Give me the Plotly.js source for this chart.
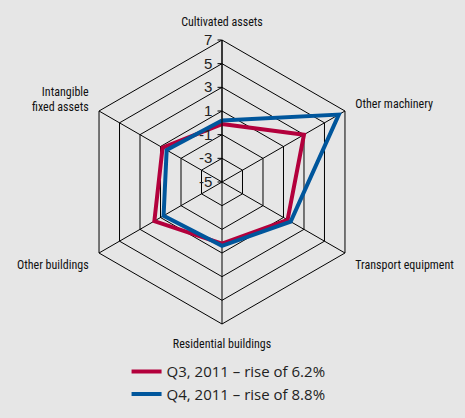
<!DOCTYPE html>
<html><head><meta charset="utf-8">
<script src="https://cdn.plot.ly/plotly-3.0.1.min.js"></script>
<style>html,body{margin:0;padding:0;background:#e6e6e6;}#chart{width:465px;height:418px;}</style>
</head><body><div id="chart"></div>
<script>
const categories = ["Cultivated assets", "Other machinery", "Transport equipment", "Residential buildings", "Other buildings", "Intangible fixed assets"];
const categoryLabels = ["Cultivated assets", "Other machinery", "Transport equipment", "Residential buildings", "Other buildings", "Intangible<br>fixed assets"];
const q3Values = [-0.1, 3.0, 1.4, 0.2, 1.6, 0.8];
const q4Values = [0.2, 6.4, 1.7, 0.4, 0.7, 0.4];
const q3Name = "Q3, 2011 \u2013 rise of 6.2%";
const q4Name = "Q4, 2011 \u2013 rise of 8.8%";
const radialTicks = [-5, -3, -1, 1, 3, 5, 7];

const close = a => a.concat([a[0]]);
const traces = [
  {type: "scatterpolar", r: close(q3Values), theta: close(categories), name: q3Name, mode: "lines",
   line: {color: "#b3003c", width: 4}},
  {type: "scatterpolar", r: close(q4Values), theta: close(categories), name: q4Name, mode: "lines",
   line: {color: "#00569c", width: 4}}
];
const narrow = "'Liberation Sans Narrow', 'Roboto Condensed', 'Arial Narrow', 'Liberation Sans', sans-serif";
const layout = {
  width: 465, height: 418,
  paper_bgcolor: "#e6e6e6", plot_bgcolor: "#e6e6e6",
  margin: {l: 58, r: 79, t: 40, b: 94, autoexpand: false},
  showlegend: true,
  legend: {orientation: "v", x: 0.52, xanchor: "center", yref: "container", y: 0.15, yanchor: "top",
           font: {family: "'Open Sans', sans-serif", size: 15, color: "#222"},
           bgcolor: "rgba(0,0,0,0)", tracegroupgap: 0, itemwidth: 30},
  polar: {
    bgcolor: "#e6e6e6",
    gridshape: "linear",
    radialaxis: {range: [-5, 7], tickvals: radialTicks, ticktext: radialTicks.map(String),
                 angle: 90, tickangle: 90, side: "counterclockwise",
                 showline: true, linecolor: "#000", linewidth: 1,
                 gridcolor: "#000", gridwidth: 1,
                 ticks: "outside", ticklen: 4, tickcolor: "#000",
                 tickfont: {family: "'Liberation Sans', sans-serif", size: 15, color: "#222"}},
    angularaxis: {rotation: 90, direction: "clockwise", type: "category",
                  tickvals: categories, ticktext: categoryLabels,
                  showline: true, linecolor: "#000", linewidth: 1,
                  gridcolor: "#000", gridwidth: 1,
                  ticks: "outside", ticklen: 9, tickcolor: "rgba(0,0,0,0)",
                  tickfont: {family: narrow, size: 12, color: "#111"}}
  }
};
Plotly.newPlot("chart", traces, layout, {displayModeBar: false, staticPlot: true});
</script></body></html>
